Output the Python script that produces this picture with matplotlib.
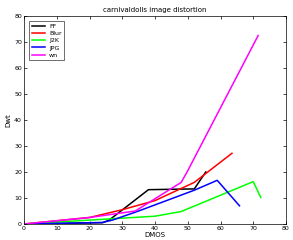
import matplotlib
matplotlib.use("Agg")
import matplotlib.pyplot as plt

title = "carnivaldolls image distortion"
xlabel = "DMOS"
ylabel = "Dwt"

ff_x = [0, 24, 26, 38, 52, 55.5]
ff_y = [0, 0.5, 1.5, 13.2, 13.5, 20]
blur_x = [0, 20, 30, 40, 52, 63.5]
blur_y = [0, 2.5, 5.5, 9, 16, 27.2]
j2k_x = [0, 20, 40, 48, 70, 72.3]
j2k_y = [0, 1.5, 3, 4.8, 16.3, 10.2]
jpg_x = [0, 24, 27, 35, 52, 59, 65.8]
jpg_y = [0, 0.6, 1.5, 5, 13, 16.8, 7]
wn_x = [0, 20, 34, 48, 50, 71.5]
wn_y = [0, 2.5, 5, 16, 20.5, 72.5]

series = [
    ("FF", ff_x, ff_y, "black"),
    ("Blur", blur_x, blur_y, "#ff0000"),
    ("J2K", j2k_x, j2k_y, "#00ff00"),
    ("JPG", jpg_x, jpg_y, "#0000ff"),
    ("wn", wn_x, wn_y, "#ff00ff"),
]

fig = plt.figure(figsize=(2.93, 2.40), dpi=100)
ax = fig.add_axes([24/293, 1 - 224/240, (286-24)/293, (224-16)/240])
for name, xs, ys, c in series:
    ax.plot(xs, ys, color=c, lw=1.1, label=name)

ax.set_xlim(0, 80)
ax.set_ylim(0, 80)
ax.set_xticks(range(0, 81, 10))
ax.set_yticks(range(0, 81, 10))
ax.tick_params(labelsize=4.5, direction="in", length=2, width=0.5, pad=1.5,
               top=True, right=True)
for s in ax.spines.values():
    s.set_linewidth(0.5)
ax.set_title(title, fontsize=5, pad=3)
ax.set_xlabel(xlabel, fontsize=5, labelpad=1)
ax.set_ylabel(ylabel, fontsize=5, labelpad=2)
leg = ax.legend(loc="upper left", fontsize=4.5, frameon=True, fancybox=False,
                edgecolor="black", handlelength=2.2, borderpad=0.4,
                labelspacing=0.3, handletextpad=0.6, borderaxespad=0.8)
leg.get_frame().set_linewidth(0.5)
fig.savefig("out.png", dpi=100)
